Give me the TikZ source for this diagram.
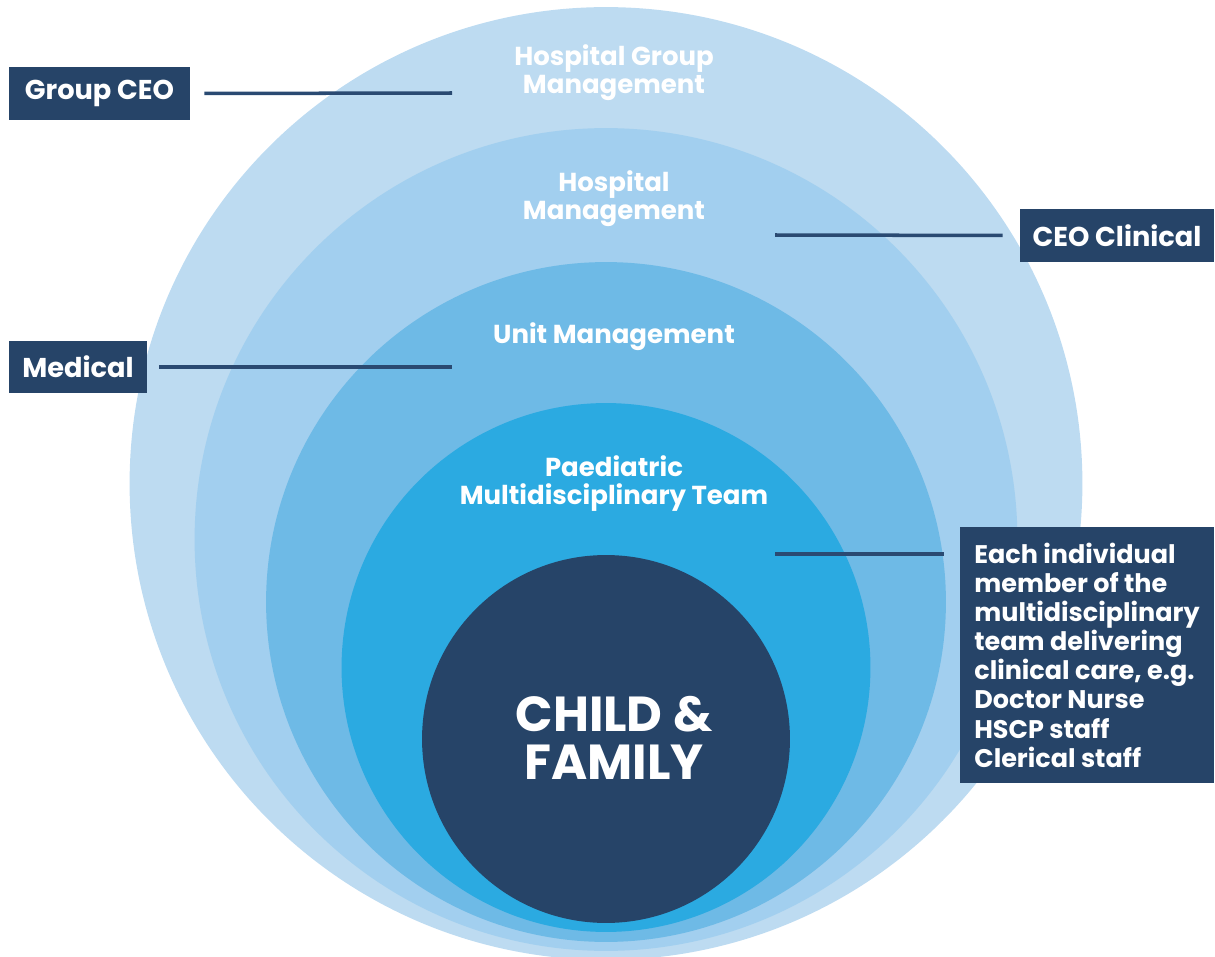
\documentclass[tikz,border=0pt]{standalone}
\usepackage{fontspec}
\setmainfont{Poppins}
\usetikzlibrary{positioning}
\definecolor{navy}{HTML}{264468}
\definecolor{linknavy}{HTML}{2A4A72}
\definecolor{ringA}{HTML}{BDDBF1}
\definecolor{ringB}{HTML}{A2CFEF}
\definecolor{ringC}{HTML}{6EBAE6}
\definecolor{ringD}{HTML}{2BAAE1}

\begin{document}
\begin{tikzpicture}[x=0.02cm,y=-0.02cm]
  \tikzset{ring/.style = {shape=circle,inner sep=0pt,draw=none}}
  \tikzset{ringlabel/.style = {text=white,align=center,font=\bfseries\fontsize{14.8}{15.9}\selectfont}}
  \tikzset{rolebox/.style = {fill=navy,text=white,inner sep=0pt,minimum height=1.06cm,font=\bfseries\fontsize{15.5}{16.5}\selectfont}}
  \tikzset{link/.style = {draw=linknavy,line width=2pt}}

  \useasboundingbox (0,0) rectangle (1215,957);

  % nested rings, outermost first
  \node[ring,fill=ringA,minimum size=19.06cm] (group) at (606,483.5) {};
  \node[ring,fill=ringB,minimum size=16.46cm] (hosp) at (606,539.5) {};
  \node[ring,fill=ringC,minimum size=13.6cm] (unit) at (606,602) {};
  \node[ring,fill=ringD,minimum size=10.58cm] (team) at (606,667.5) {};
  \node[ring,fill=navy,minimum size=7.36cm] (child) at (606,739) {};

  \node[ringlabel] (grouplbl) at (614,73) {Hospital Group\\Management};
  \node[ringlabel] (hosplbl) at (614,199) {Hospital\\Management};
  \node[ringlabel] (unitlbl) at (614,337) {Unit Management};
  \node[ringlabel] (teamlbl) at (614,484) {Paediatric\\Multidisciplinary Team};
  \node[text=white,align=center,font=\bfseries\fontsize{28}{27.5}\selectfont] (childlbl) at (614,738) {CHILD \&\\FAMILY};

  % role boxes
  \node[rolebox,minimum width=3.62cm] (gceo) at (99.5,93.5) {Group CEO};
  \node[rolebox,minimum width=3.88cm] (clin) at (1117,235.5) {CEO Clinical};
  \node[rolebox,minimum width=2.76cm,minimum height=1.04cm] (med) at (78,367) {Medical};
  \node[rolebox,minimum width=5.08cm,minimum height=5.12cm,align=left,
        font=\bfseries\fontsize{14.5}{16.6}\selectfont] (member) at (1087,655)
    {Each individual\\member of the\\multidisciplinary\\team delivering\\clinical care, e.g.\\Doctor Nurse\\HSCP staff\\Clerical staff};

  \coordinate (gceo end) at (452,93);
  \coordinate (clin end) at (775,235);
  \coordinate (med end) at (452,367);
  \coordinate (member end) at (775,554);

  \draw[link,shorten <=0.28cm] (gceo.east) -- (gceo end);
  \draw[link,shorten <=0.34cm] (clin.west) -- (clin end);
  \draw[link,shorten <=0.24cm] (med.east) -- (med end);
  \draw[link,shorten >=0.32cm] (member end) -- (member end -| member.west);
\end{tikzpicture}
\end{document}
